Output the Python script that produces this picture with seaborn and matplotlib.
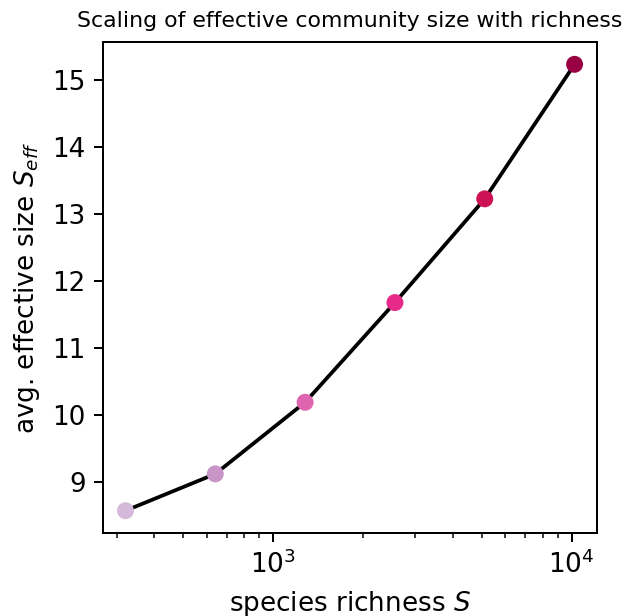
import matplotlib
matplotlib.use("Agg")
import matplotlib.pyplot as plt
import seaborn as sns
import pandas as pd

# species richness and the averaged effective community size
richness = [320, 640, 1280, 2560, 5120, 10240]
s_eff = [8.57, 9.12, 10.19, 11.68, 13.23, 15.24]
point_colors = ["#d4b9da", "#c994c7", "#df65b0", "#e7298a", "#ce1256", "#980043"]

df = pd.DataFrame({"S": richness, "S_eff": s_eff})

fig = plt.figure(figsize=(627 / 180, 616 / 180), dpi=180)
ax = fig.add_axes([0.1643, 0.1347, 0.9522 - 0.1643, 0.9318 - 0.1347])

sns.lineplot(data=df, x="S", y="S_eff", color="black", linewidth=1.5, ax=ax, zorder=2)
sns.scatterplot(data=df, x="S", y="S_eff", hue="S", palette=point_colors,
                s=46, linewidth=0, legend=False, ax=ax, zorder=3)

ax.set_xscale("log")
ax.set_xlabel("species richness $S$", fontsize=10.5)
ax.set_ylabel("avg. effective size $S_{eff}$", fontsize=10.5)
ax.set_title("Scaling of effective community size with richness", fontsize=8.8, pad=6)
ax.tick_params(axis="both", which="major", labelsize=10.5)

fig.savefig("out.png", dpi=180)
